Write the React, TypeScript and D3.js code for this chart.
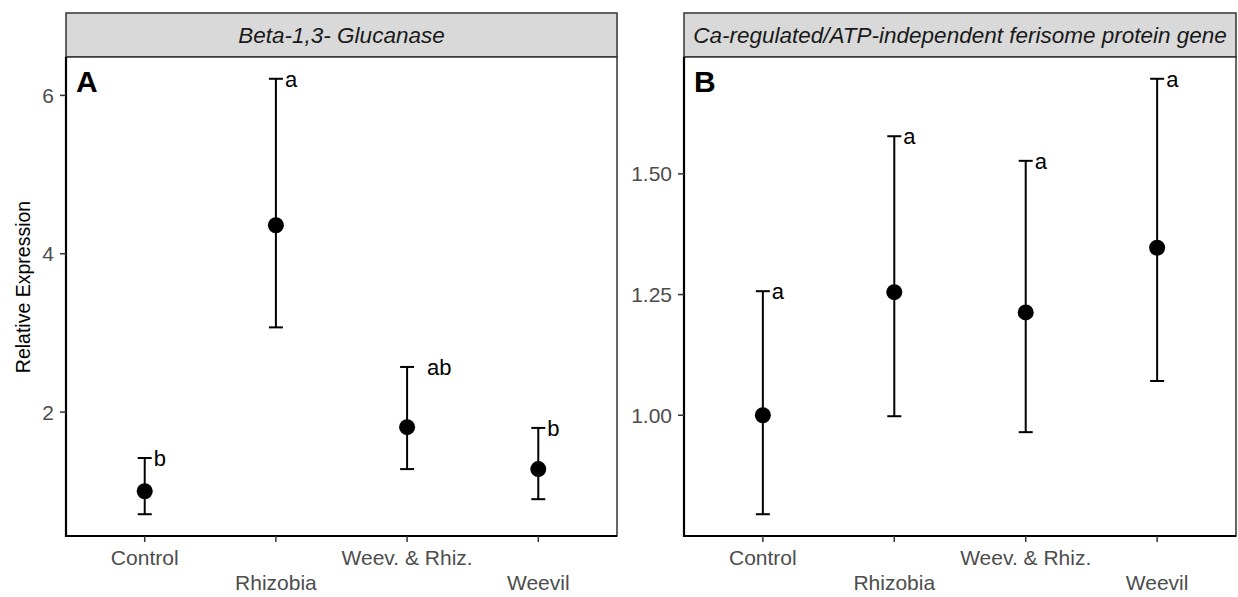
import React from "react";
import * as d3 from "d3";

// categories shared by both panels
const categories = ["Control", "Rhizobia", "Weev. & Rhiz.", "Weevil"];

// panel A: Beta-1,3- Glucanase
const meanA = [1.0, 4.36, 1.81, 1.28];
const lowerA = [0.71, 3.07, 1.28, 0.9];
const upperA = [1.42, 6.21, 2.57, 1.8];
const lettersA = ["b", "a", "ab", "b"];
const ticksA = [2, 4, 6];

// panel B: Ca-regulated/ATP-independent ferisome protein gene
const meanB = [1.0, 1.255, 1.213, 1.347];
const lowerB = [0.795, 0.998, 0.965, 1.071];
const upperB = [1.257, 1.578, 1.527, 1.697];
const lettersB = ["a", "a", "a", "a"];
const ticksB = [1.0, 1.25, 1.5];

const W = 1238;
const H = 597;
const FONT = "'Liberation Sans', Arial, Helvetica, sans-serif";

type PanelProps = {
  x0: number;
  x1: number;
  title: string;
  tag: string;
  mean: number[];
  lower: number[];
  upper: number[];
  letters: string[];
  ticks: number[];
  fmt: (v: number) => string;
};

const stripTop = 13;
const panelTop = 57;
const panelBottom = 536;

const Panel = (props: PanelProps) => {
  const { x0, x1, mean, lower, upper, letters, ticks } = props;

  const x = d3.scalePoint<string>().domain(categories).range([x0, x1]).padding(0.6);

  // ggplot style 5% expansion of the data range
  const lo = d3.min(lower) as number;
  const hi = d3.max(upper) as number;
  const pad = (hi - lo) * 0.05;
  const y = d3.scaleLinear().domain([lo - pad, hi + pad]).range([panelBottom, panelTop]);

  const capHalf = 7;

  return (
    <g>
      {/* strip */}
      <rect
        x={x0}
        y={stripTop}
        width={x1 - x0}
        height={panelTop - stripTop}
        fill="#D9D9D9"
        stroke="#333333"
        strokeWidth={1.5}
      />
      <text
        x={(x0 + x1) / 2}
        y={(stripTop + panelTop) / 2}
        dominantBaseline="central"
        textAnchor="middle"
        fontStyle="italic"
        fontSize={22.5}
        fill="#1A1A1A"
      >
        {props.title}
      </text>

      {/* panel border */}
      <rect x={x0} y={panelTop} width={x1 - x0} height={panelBottom - panelTop} fill="white" stroke="#333333" strokeWidth={1.5} />
      <line x1={x0} x2={x0} y1={panelTop} y2={panelBottom + 1} stroke="black" strokeWidth={2.2} />
      <line x1={x0 - 1} x2={x1} y1={panelBottom} y2={panelBottom} stroke="black" strokeWidth={2.2} />

      {/* y axis */}
      {ticks.map((t) => (
        <g key={t}>
          <line x1={x0 - 6} x2={x0} y1={y(t)} y2={y(t)} stroke="#333333" strokeWidth={1.5} />
          <text x={x0 - 12} y={y(t)} dominantBaseline="central" textAnchor="end" fontSize={21} fill="#4D4D4D">
            {props.fmt(t)}
          </text>
        </g>
      ))}

      {/* x axis, dodged labels */}
      {categories.map((c, i) => (
        <g key={c}>
          <line x1={x(c)} x2={x(c)} y1={panelBottom} y2={panelBottom + 6} stroke="#333333" strokeWidth={1.5} />
          <text x={x(c)} y={i % 2 === 0 ? 565 : 590} textAnchor="middle" fontSize={21} fill="#4D4D4D">
            {c}
          </text>
        </g>
      ))}

      {/* error bars and means */}
      {categories.map((c, i) => {
        const cx = x(c) as number;
        return (
          <g key={"e" + c}>
            <line x1={cx} x2={cx} y1={y(lower[i])} y2={y(upper[i])} stroke="black" strokeWidth={2} />
            <line x1={cx - capHalf} x2={cx + capHalf} y1={y(lower[i])} y2={y(lower[i])} stroke="black" strokeWidth={2} />
            <line x1={cx - capHalf} x2={cx + capHalf} y1={y(upper[i])} y2={y(upper[i])} stroke="black" strokeWidth={2} />
            <circle cx={cx} cy={y(mean[i])} r={8} fill="black" />
            <text
              x={cx + (letters[i].length > 1 ? 20 : 9)}
              y={y(upper[i]) + 8}
              fontSize={22}
              fill="black"
            >
              {letters[i]}
            </text>
          </g>
        );
      })}

      {/* panel tag */}
      <text x={x0 + 10} y={92} fontSize={30} fontWeight="bold" fill="black">
        {props.tag}
      </text>
    </g>
  );
};

export default function App() {
  return (
    <svg
      width={W}
      height={H}
      style={{ position: "absolute", left: 0, top: 0, background: "white" }}
      fontFamily={FONT}
    >
      <rect x={0} y={0} width={W} height={H} fill="white" />
      <text
        transform="translate(23,287) rotate(-90)"
        textAnchor="middle"
        dominantBaseline="central"
        fontSize={19.5}
        fill="black"
      >
        Relative Expression
      </text>
      <Panel
        x0={66}
        x1={617}
        title="Beta-1,3- Glucanase"
        tag="A"
        mean={meanA}
        lower={lowerA}
        upper={upperA}
        letters={lettersA}
        ticks={ticksA}
        fmt={(v) => String(v)}
      />
      <Panel
        x0={684}
        x1={1236}
        title="Ca-regulated/ATP-independent ferisome protein gene"
        tag="B"
        mean={meanB}
        lower={lowerB}
        upper={upperB}
        letters={lettersB}
        ticks={ticksB}
        fmt={(v) => v.toFixed(2)}
      />
    </svg>
  );
}
